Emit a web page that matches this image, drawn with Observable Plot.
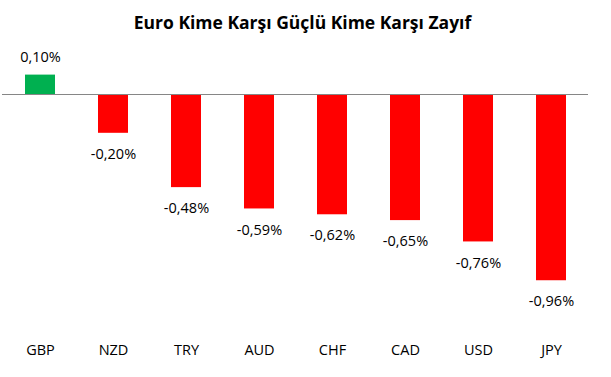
<!DOCTYPE html>
<html>
<head>
<meta charset="utf-8">
<script src="https://cdn.jsdelivr.net/npm/d3@7"></script>
<script src="https://cdn.jsdelivr.net/npm/@observablehq/plot@0.6"></script>
<style>
  body { margin: 0; background: #fff; width: 611px; height: 377px; overflow: hidden; font-family: "Open Sans", sans-serif; }
  #title { height: 40px; line-height: 44px; text-align: center; font-weight: bold; font-size: 17.5px; color: #000; padding-right: 6px; }
</style>
</head>
<body>
<div id="title">Euro Kime Karşı Güçlü Kime Karşı Zayıf</div>
<div id="chart"></div>
<script>
const currencies = ["GBP", "NZD", "TRY", "AUD", "CHF", "CAD", "USD", "JPY"];
const changes = [0.10, -0.20, -0.48, -0.59, -0.62, -0.65, -0.76, -0.96];
const posColor = "#00B050";
const negColor = "#FF0000";

const data = currencies.map((c, i) => ({ cur: c, v: changes[i] }));
const fmt = v => v.toFixed(2).replace(".", ",") + "%";

const chart = Plot.plot({
  width: 611,
  height: 337,
  marginLeft: 2,
  marginRight: 23,
  marginTop: 0,
  marginBottom: 37,
  style: { fontFamily: "Open Sans, sans-serif", fontSize: "14.5px", color: "#000", background: "#fff" },
  x: { domain: currencies, range: [1, 589], paddingInner: 0.59, paddingOuter: 0.295, label: null },
  y: { domain: [-1, 0.2], range: [248, 15.2], axis: null },
  marks: [
    Plot.barY(data, { x: "cur", y: "v", fill: d => d.v >= 0 ? posColor : negColor }),
    Plot.ruleY([0], { stroke: "#868686", strokeWidth: 1 }),
    Plot.text(data.filter(d => d.v >= 0), { x: "cur", y: "v", text: d => fmt(d.v), dy: -18, fill: "#000", fontSize: 14.5 }),
    Plot.text(data.filter(d => d.v < 0), { x: "cur", y: "v", text: d => fmt(d.v), dy: 21, fill: "#000", fontSize: 14.5 }),
    Plot.axisX({ tickSize: 0, tickPadding: 4, fontSize: 14.5, fill: "#000" })
  ]
});
document.getElementById("chart").appendChild(chart);
</script>
</body>
</html>
